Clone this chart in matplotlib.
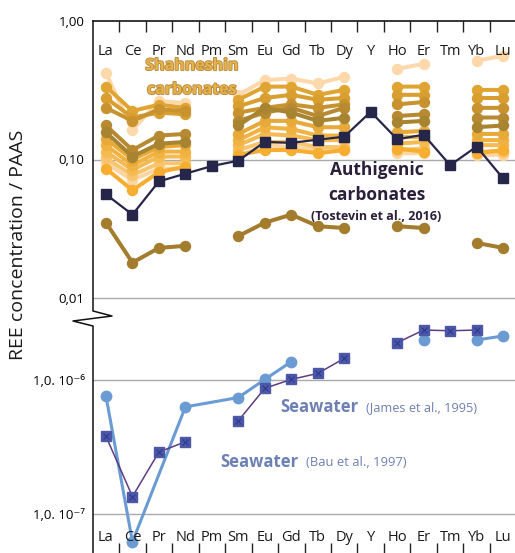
import numpy as np
import matplotlib
matplotlib.use("Agg")
import matplotlib.pyplot as plt
from matplotlib.lines import Line2D
import matplotlib.patheffects as pe

plt.rcParams['font.family'] = ['Open Sans', 'DejaVu Sans']

nan = np.nan
elements = ["La", "Ce", "Pr", "Nd", "Pm", "Sm", "Eu", "Gd", "Tb", "Dy",
            "Y", "Ho", "Er", "Tm", "Yb", "Lu"]

# Shahneshin carbonates (PAAS-normalised)
s01 = [0.42, 0.163, 0.265, 0.255, nan, 0.293, 0.374, 0.384, 0.354, 0.395, nan, 0.452, 0.49, nan, 0.517, 0.56]
s02 = [0.336, 0.224, 0.249, 0.236, nan, 0.27, 0.336, 0.336, 0.293, 0.318, nan, 0.336, 0.336, nan, 0.318, 0.318]
s03 = [0.278, 0.201, 0.218, 0.212, nan, 0.242, 0.278, 0.293, 0.27, 0.278, nan, 0.293, 0.293, nan, 0.278, 0.278]
s04 = [0.236, 0.19, 0.23, 0.224, nan, 0.218, 0.236, 0.25, 0.236, 0.25, nan, 0.25, 0.26, nan, 0.236, 0.236]
s05 = [0.176, 0.117, 0.149, 0.153, nan, 0.19, 0.218, 0.236, 0.206, 0.236, nan, 0.206, 0.212, nan, 0.201, 0.201]
s06 = [0.157, 0.105, 0.13, 0.134, nan, 0.176, 0.236, 0.218, 0.19, 0.2, nan, 0.185, 0.19, nan, 0.171, 0.176]
s07 = [0.141, 0.1, 0.123, 0.127, nan, 0.153, 0.19, 0.19, 0.171, 0.171, nan, 0.157, 0.161, nan, 0.153, 0.153]
s08 = [0.127, 0.091, 0.114, 0.114, nan, 0.138, 0.171, 0.166, 0.149, 0.149, nan, 0.145, 0.145, nan, 0.138, 0.138]
s09 = [0.114, 0.084, 0.105, 0.105, nan, 0.127, 0.153, 0.149, 0.138, 0.138, nan, 0.13, 0.134, nan, 0.127, 0.127]
s10 = [0.102, 0.077, 0.094, 0.094, nan, 0.117, 0.134, 0.134, 0.123, 0.123, nan, 0.117, 0.12, nan, 0.114, 0.114]
s11 = [0.086, 0.060, 0.081, 0.089, nan, 0.108, 0.117, 0.117, 0.111, 0.117, nan, 0.12, 0.114, nan, 0.111, 0.117]
s12 = [0.094, 0.071, 0.086, 0.086, nan, 0.105, 0.127, 0.123, 0.117, 0.12, nan, 0.111, 0.111, nan, 0.108, 0.108]
s13 = [0.035, 0.018, 0.023, 0.0238, nan, 0.028, 0.035, 0.040, 0.033, 0.032, nan, 0.033, 0.032, nan, 0.025, 0.023]

# Authigenic carbonates (Tostevin et al., 2016)
authigenic = [0.056, 0.040, 0.0695, 0.079, 0.0897, 0.098, 0.134, 0.132, 0.139, 0.146,
              0.221, 0.140, 0.151, 0.091, 0.124, 0.073]

# Seawater
bau1997 = [7.6e-7, 6.2e-8, nan, 6.3e-7, nan, 7.4e-7, 1.01e-6, 1.37e-6, nan, nan,
           nan, nan, 1.99e-6, nan, 1.99e-6, 2.13e-6]
james1995 = [3.8e-7, 1.35e-7, 2.9e-7, 3.46e-7, nan, 4.97e-7, 8.67e-7, 1.01e-6, 1.12e-6, 1.45e-6,
             nan, 1.9e-6, 2.36e-6, 2.33e-6, 2.36e-6, nan]

# draw order (light first) and colours
shah_series = [s12, s01, s10, s09, s08, s11, s07, s02, s03, s04, s05, s06, s13]
shah_colors = ['#fcd6a2', '#fdd8aa', '#f8c56e', '#f5bb52', '#f0b240', '#f6ad30', '#e6a93a',
               '#e0a433', '#d99e30', '#c8932f', '#b78a32', '#a98430', '#a37d2d']

W, H = 515, 553
fig = plt.figure(figsize=(W / 100, H / 100), dpi=100)

def fx(px):
    return px / W

def fy(py):
    return 1 - py / H

x = np.arange(len(elements))

# ---------- top panel ----------
top_px, bot_px = 21, 311
ax1 = fig.add_axes([fx(93), fy(bot_px), fx(W - 93), (bot_px - top_px) / H])
dec = (298 - 21) / 2.0
ax1.set_yscale('log')
ax1.set_ylim(10 ** (-2 - (bot_px - 298) / dec), 1.0)
ax1.set_xlim(-0.49, 15.45)

for i, (s, c) in enumerate(zip(shah_series, shah_colors)):
    ax1.plot(x, s, '-o', color=c, lw=2.9, ms=7.2, mec=c, zorder=2 + i * 0.01)

ax1.plot(x, authigenic, '-s', color='#25264a', lw=1.6, ms=6.8, zorder=3)

ax1.set_yticks([0.01, 0.1, 1.0])
ax1.set_yticklabels(['0,01', '0,10', '1,00'])
ax1.yaxis.set_minor_locator(matplotlib.ticker.NullLocator())
ax1.tick_params(axis='y', length=0, pad=6, labelsize=9.5)
for v in [0.01, 0.1]:
    ax1.axhline(v, color='#aaaaaa', lw=1.0, zorder=1)

ax1.xaxis.tick_top()
ax1.set_xticks(x[:-1] + 0.5)
ax1.set_xticklabels([])
ax1.tick_params(axis='x', direction='in', length=8, width=1.0, color='#222222')
for side in ['left', 'right', 'bottom']:
    ax1.spines[side].set_visible(False)
ax1.spines['top'].set_linewidth(1.1)

for i, e in enumerate(elements):
    ax1.text(i, 0.895, e, transform=ax1.get_xaxis_transform(), ha='center', va='center',
             fontsize=10.5, color='#1a1a1a')

shah_fx = [pe.withStroke(linewidth=1.3, foreground='#b98a3a')]
fig.text(fx(192), fy(66), 'Shahneshin', ha='center', va='center', fontsize=11.5,
         fontweight='bold', color='#e6b24c', path_effects=shah_fx, zorder=6)
fig.text(fx(192), fy(90), 'carbonates', ha='center', va='center', fontsize=11.5,
         fontweight='bold', color='#e6b24c', path_effects=shah_fx, zorder=6)

fig.text(fx(377), fy(170), 'Authigenic', ha='center', va='center', fontsize=12.5,
         fontweight='bold', color='#2b1f3a', zorder=5)
fig.text(fx(377), fy(195), 'carbonates', ha='center', va='center', fontsize=12.5,
         fontweight='bold', color='#2b1f3a', zorder=5)
fig.text(fx(376), fy(217), '(Tostevin et al., 2016)', ha='center', va='center',
         fontsize=9, fontweight='bold', color='#2b1f3a', zorder=5)

# ---------- bottom panel ----------
btop_px = 322
ax2 = fig.add_axes([fx(93), 0, fx(W - 93), (H - btop_px) / H])
dec2 = 514 - 380
ax2.set_yscale('log')
ax2.set_ylim(1e-7 * 10 ** (-(H - 514) / dec2), 1e-6 * 10 ** ((380 - btop_px) / dec2))
ax2.set_xlim(-0.49, 15.45)

james = np.array(james1995)
ax2.plot(x, james, '-', color='#5e3b82', lw=1.1, zorder=3)
ax2.plot(x, james, 's', color='#4d57a8', ms=7.5, zorder=4)
ax2.plot(x, james, 'x', color='#2f3a8a', ms=5, mew=0.8, zorder=5)

bau = np.array(bau1997)
first = np.arange(0, 8)
m = ~np.isnan(bau[first])
ax2.plot(x[first][m], bau[first][m], '-o', color='#6b9bd3', lw=2.2, ms=7.5, zorder=2)
rest = np.arange(8, 16)
ax2.plot(x[rest], bau[rest], '-o', color='#6b9bd3', lw=2.2, ms=7.5, zorder=2)

ax2.set_yticks([1e-7, 1e-6])
ax2.set_yticklabels(['1,0. 10⁻⁷', '1,0. 10⁻⁶'])
ax2.yaxis.set_minor_locator(matplotlib.ticker.NullLocator())
ax2.tick_params(axis='y', length=0, pad=6, labelsize=9.5)
for v in [1e-7, 1e-6]:
    ax2.axhline(v, color='#aaaaaa', lw=1.0, zorder=1)

ax2.set_xticks(x[:-1] + 0.5)
ax2.set_xticklabels([])
ax2.tick_params(axis='x', direction='in', length=7, width=1.0, color='#222222')
for side in ['left', 'right', 'top', 'bottom']:
    ax2.spines[side].set_visible(False)

for i, e in enumerate(elements):
    ax2.text(i, 0.065, e, transform=ax2.get_xaxis_transform(), ha='center', va='center',
             fontsize=10.5, color='#1a1a1a')

sw_col = '#6d80b3'
fig.text(fx(280), fy(407), 'Seawater', ha='left', va='center', fontsize=12,
         fontweight='bold', color=sw_col)
fig.text(fx(366), fy(408), '(James et al., 1995)', ha='left', va='center', fontsize=9.2,
         color=sw_col)
fig.text(fx(220), fy(462), 'Seawater', ha='left', va='center', fontsize=12,
         fontweight='bold', color=sw_col)
fig.text(fx(306), fy(463), '(Bau et al., 1997)', ha='left', va='center', fontsize=9.4,
         color=sw_col)

# left axis line with break
pts = [(93, 21), (93, 311), (112, 316), (73, 321), (93, 326), (93, H)]
fig.add_artist(Line2D([fx(p[0]) for p in pts], [fy(p[1]) for p in pts],
                      transform=fig.transFigure, color='#111111', lw=1.1))

fig.text(fx(18), fy(245), 'REE concentration / PAAS', rotation=90, ha='center',
         va='center', fontsize=14, color='#1a1a1a')

fig.savefig('out.png', dpi=100)
